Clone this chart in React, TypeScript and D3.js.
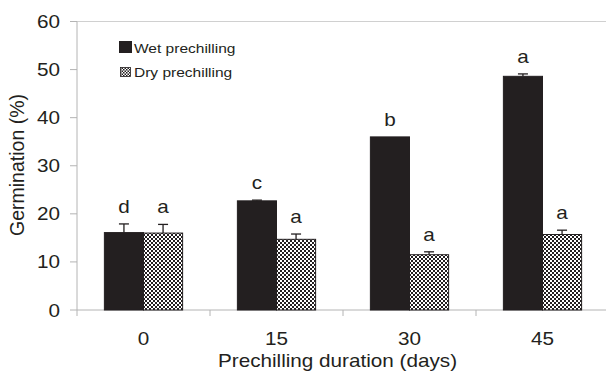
import React from "react";
import * as d3 from "d3";

// Germination (%) by prechilling duration
const days = ["0", "15", "30", "45"];
const wetValues = [16.1, 22.7, 36.0, 48.6];
const wetErrors = [1.8, 0.15, 0, 0.5];
const dryValues = [16.0, 14.7, 11.5, 15.7];
const dryErrors = [1.8, 1.1, 0.6, 0.9];
const wetLetters = ["d", "c", "b", "a"];
const dryLetters = ["a", "a", "a", "a"];
const yTicks = [0, 10, 20, 30, 40, 50, 60];
const seriesKeys = ["wet", "dry"];

const W = 606;
const H = 371;
const X0 = 77;
const X1 = 609;
const Y0 = 310;
const Y1 = 21.5;
const INK = "#231f20";
const AXIS = "#b4b4b4";
const SX = 1.15;
const FONT = "'Liberation Sans', Arial, sans-serif";

export default function App() {
  const x = d3.scaleBand<string>().domain(days).range([X0, X1]).paddingInner(0).paddingOuter(0);
  const xs = d3
    .scaleBand<string>()
    .domain(seriesKeys)
    .range([0, x.bandwidth()])
    .paddingInner(0)
    .paddingOuter(0.7);
  const y = d3.scaleLinear().domain([0, 60]).range([Y0, Y1]);

  const rows = days.map((d, i) => ({
    day: d,
    bars: [
      { key: "wet", v: wetValues[i], e: wetErrors[i], letter: wetLetters[i] },
      { key: "dry", v: dryValues[i], e: dryErrors[i], letter: dryLetters[i] },
    ],
  }));

  const txt = (
    x0: number,
    y0: number,
    s: string,
    size: number,
    anchor: "start" | "middle" | "end",
    key?: string
  ) => (
    <text
      key={key}
      transform={`translate(${x0},${y0}) scale(${SX},1)`}
      textAnchor={anchor}
      fontSize={size}
      fontFamily={FONT}
      fill={INK}
    >
      {s}
    </text>
  );

  return (
    <svg
      width={W}
      height={H}
      style={{ position: "absolute", left: 0, top: 0, display: "block", background: "#fff" }}
    >
      <defs>
        <pattern id="checker" width={4} height={4} patternUnits="userSpaceOnUse">
          <rect width={4} height={4} fill="#fff" />
          <rect width={2} height={2} fill={INK} />
          <rect x={2} y={2} width={2} height={2} fill={INK} />
        </pattern>
        <pattern id="checkerSmall" width={3} height={3} patternUnits="userSpaceOnUse">
          <rect width={3} height={3} fill="#fff" />
          <rect width={1.5} height={1.5} fill={INK} />
          <rect x={1.5} y={1.5} width={1.5} height={1.5} fill={INK} />
        </pattern>
      </defs>

      {/* frame top line */}
      <line x1={X0} x2={W} y1={y(60)} y2={y(60)} stroke="#d0d0d0" strokeWidth={1} />

      {/* y axis */}
      <line x1={X0} x2={X0} y1={Y1} y2={Y0 + 6} stroke={AXIS} strokeWidth={1} />
      {yTicks.map((t) => (
        <g key={t}>
          <line x1={X0 - 7} x2={X0} y1={y(t)} y2={y(t)} stroke={AXIS} strokeWidth={1} />
          {txt(60, y(t) + 6.5, String(t), 18, "end")}
        </g>
      ))}

      {/* x axis */}
      <line x1={X0} x2={W} y1={Y0} y2={Y0} stroke={AXIS} strokeWidth={1} />
      {days.map((d) => (
        <line
          key={d}
          x1={(x(d) as number) + x.bandwidth()}
          x2={(x(d) as number) + x.bandwidth()}
          y1={Y0}
          y2={Y0 + 6}
          stroke={AXIS}
          strokeWidth={1}
        />
      ))}
      {days.map((d) => txt((x(d) as number) + x.bandwidth() / 2, 345, d, 18, "middle", "xl" + d))}

      {/* bars */}
      {rows.map((r) => (
        <g key={r.day} transform={`translate(${x(r.day)},0)`}>
          {r.bars.map((b) => {
            const bx = xs(b.key) as number;
            const bw = xs.bandwidth();
            const cx = bx + bw / 2;
            const top = y(b.v + b.e);
            return (
              <g key={b.key}>
                <rect
                  x={bx}
                  y={y(b.v)}
                  width={bw}
                  height={Y0 - y(b.v)}
                  fill={b.key === "wet" ? INK : "url(#checker)"}
                  stroke={INK}
                  strokeWidth={1}
                />
                {b.e > 0 && (
                  <g stroke={INK} strokeWidth={1.3}>
                    <line x1={cx} x2={cx} y1={y(b.v)} y2={top} />
                    <line x1={cx - 5} x2={cx + 5} y1={top} y2={top} />
                  </g>
                )}
                {txt(cx, top - 11, b.letter, 18, "middle")}
              </g>
            );
          })}
        </g>
      ))}

      {/* legend */}
      <rect x={119} y={41} width={13} height={12} fill={INK} />
      {txt(134, 53, "Wet prechilling", 13.5, "start")}
      <rect x={120.5} y={67.5} width={10} height={9} fill="url(#checkerSmall)" stroke={INK} strokeWidth={0.8} />
      {txt(134, 77, "Dry prechilling", 13.5, "start")}

      {/* axis titles */}
      {txt(337.5, 367, "Prechilling duration (days)", 18, "middle")}
      <text
        transform={`translate(24,165) rotate(-90)`}
        textAnchor="middle"
        fontSize={19.5}
        fontFamily={FONT}
        fill={INK}
      >
        Germination (%)
      </text>
    </svg>
  );
}
